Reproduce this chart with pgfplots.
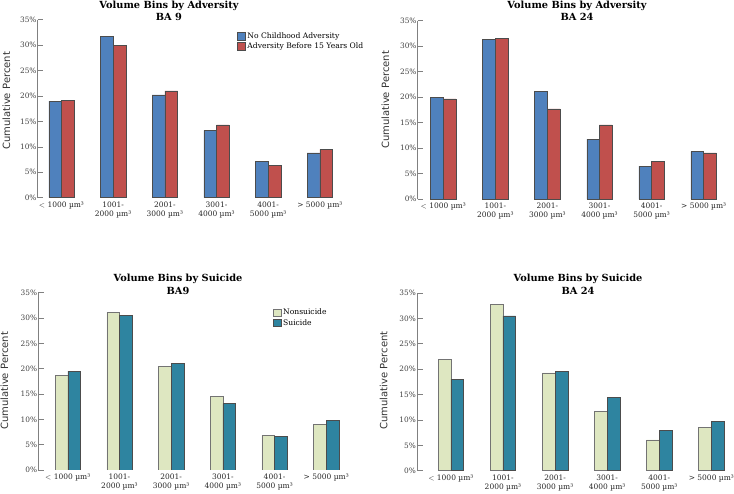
\documentclass[border=0pt]{standalone}
\usepackage{fontspec}
\setmainfont{DejaVu Serif}
\setsansfont{DejaVu Sans}
\usepackage{pgfplots}
\pgfplotsset{compat=1.18}
\definecolor{cblue}{HTML}{4F81BD}
\definecolor{cred}{HTML}{C0504D}
\definecolor{clight}{HTML}{DEE7C1}
\definecolor{cteal}{HTML}{2E84A0}
\definecolor{axgray}{HTML}{808080}
\pgfplotsset{
  panel/.style={
    scale only axis,
    ybar=0pt, bar width=12.7pt,
    ymin=0, ymax=35, xmax=5.5,
    ytick={0,5,...,35},
    yticklabel={\pgfmathprintnumber{\tick}\%},
    yticklabel style={font=\fontsize{7.4}{8}\selectfont, text=black!75, inner sep=1pt},
    xtick={0,...,5},
    xticklabels={{$<$ 1000 µm³},{1001-\\2000 µm³},{2001-\\3000 µm³},{3001-\\4000 µm³},{4001-\\5000 µm³},{> 5000 µm³}},
    xticklabel style={font=\fontsize{7.5}{9}\selectfont, align=center, text=black!85, anchor=north, yshift=-0.5pt},
    x tick style={draw=none},
    axis x line*=bottom, axis y line*=left,
    x axis line style={draw=none},
    y axis line style={draw=axgray, line width=0.6pt},
    y tick style={draw=axgray, line width=0.6pt},
    tick align=inside, major tick length=5.5pt,
    /pgf/number format/assume math mode=true,
    legend style={draw=none, fill=none, font=\fontsize{7.6}{9}\selectfont, anchor=north west,
      row sep=-1.2pt, inner sep=1pt},
    legend cell align=left,
    legend image code/.code={\draw[#1] (0pt,-3.5pt) rectangle (8pt,4pt);},
  },
  b1/.style={fill=cblue, draw=black!70, line width=0.5pt},
  b2/.style={fill=cred, draw=black!70, line width=0.5pt},
  b3/.style={fill=clight, draw=black!55, line width=0.5pt},
  b4/.style={fill=cteal, draw=black!70, line width=0.5pt},
}
\begin{document}
\begin{tikzpicture}
\path[use as bounding box] (0pt,0pt) rectangle (734pt,494pt);
% Panel 1
\begin{axis}[panel, at={(37.7pt,296.3pt)}, anchor=south west, width=308pt, height=178pt, xmin=-0.46,
  legend style={at={(0.643,0.945)}}]
\addplot[b1] coordinates {(0,19.0) (1,31.7) (2,20.2) (3,13.25) (4,7.15) (5,8.8)};
\addplot[b2] coordinates {(0,19.1) (1,29.9) (2,21.0) (3,14.3) (4,6.3) (5,9.5)};
\legend{No Childhood Adversity, Adversity Before 15 Years Old}
\end{axis}
% Panel 2
\begin{axis}[panel, at={(417.7pt,294.7pt)}, anchor=south west, width=312pt, height=178.6pt, xmin=-0.49]
\addplot[b1] coordinates {(0,20.0) (1,31.4) (2,21.2) (3,11.8) (4,6.5) (5,9.33)};
\addplot[b2] coordinates {(0,19.7) (1,31.6) (2,17.7) (3,14.6) (4,7.45) (5,9.08)};
\end{axis}
% Panel 3
\begin{axis}[panel, at={(38.3pt,24pt)}, anchor=south west, width=313.8pt, height=177.3pt, xmin=-0.57,
  legend style={at={(0.743,0.925)}}]
\addplot[b3] coordinates {(0,18.7) (1,31.1) (2,20.5) (3,14.55) (4,6.85) (5,9.0)};
\addplot[b4] coordinates {(0,19.5) (1,30.5) (2,21.0) (3,13.1) (4,6.7) (5,9.75)};
\legend{Nonsuicide, Suicide}
\end{axis}
% Panel 4
\begin{axis}[panel, at={(417pt,23.3pt)}, anchor=south west, width=320.4pt, height=177.7pt, xmin=-0.65]
\addplot[b3] coordinates {(0,21.9) (1,32.8) (2,19.25) (3,11.75) (4,6.05) (5,8.55)};
\addplot[b4] coordinates {(0,18.0) (1,30.5) (2,19.6) (3,14.45) (4,7.9) (5,9.7)};
\end{axis}
% Titles
\tikzset{ttl/.style={font=\fontsize{9.8}{11}\selectfont\bfseries, align=center, inner sep=0pt}}
\node[ttl] at (169pt,494pt-5.5pt) {Volume Bins by Adversity};
\node[ttl] at (169pt,494pt-17pt) {BA 9};
\node[ttl] at (577pt,494pt-5.5pt) {Volume Bins by Adversity};
\node[ttl] at (577pt,494pt-17pt) {BA 24};
\node[ttl] at (178pt,494pt-279pt) {Volume Bins by Suicide};
\node[ttl] at (178pt,494pt-290.5pt) {BA9};
\node[ttl] at (578pt,494pt-279pt) {Volume Bins by Suicide};
\node[ttl] at (578pt,494pt-290.5pt) {BA 24};
% Y labels
\tikzset{yl/.style={font=\sffamily\fontsize{10}{11}\selectfont, rotate=90, inner sep=0pt, text=black!80}}
\node[yl] at (6.5pt,494pt-101pt) {Cumulative Percent};
\node[yl] at (385.5pt,494pt-100pt) {Cumulative Percent};
\node[yl] at (4.5pt,494pt-381pt) {Cumulative Percent};
\node[yl] at (383.7pt,494pt-380.5pt) {Cumulative Percent};
\end{tikzpicture}
\end{document}
